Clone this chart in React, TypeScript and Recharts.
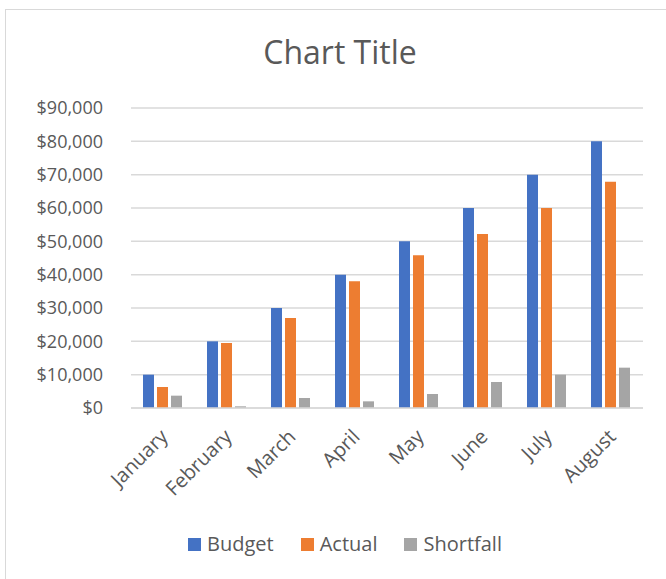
import React from "react";
import { BarChart, Bar, XAxis, YAxis, CartesianGrid, Legend } from "recharts";

const months = ["January", "February", "March", "April", "May", "June", "July", "August"];
const budget = [10000, 20000, 30000, 40000, 50000, 60000, 70000, 80000];
const actual = [6300, 19500, 27000, 38000, 45800, 52200, 60000, 67900];
const shortfall = [3700, 500, 3000, 2000, 4200, 7800, 10000, 12100];
const yTicks = [0, 10000, 20000, 30000, 40000, 50000, 60000, 70000, 80000, 90000];

const seriesNames = ["Budget", "Actual", "Shortfall"];
const seriesColors = ["#4472C4", "#ED7D31", "#A5A5A5"];

const data = months.map((m, i) => ({
  month: m,
  Budget: budget[i],
  Actual: actual[i],
  Shortfall: shortfall[i],
}));

const FONT = "'Open Sans', sans-serif";
const TEXT = "#595959";

const fmt = (v: number) => "$" + v.toLocaleString("en-US");

const XTick = (props: any) => {
  const { x, y, payload } = props;
  return (
    <g transform={`translate(${x + 6},${y + 22})`}>
      <text
        textAnchor="end"
        transform="rotate(-45)"
        fontSize={20}
        fontFamily={FONT}
        fill={TEXT}
      >
        {payload.value}
      </text>
    </g>
  );
};

const LegendContent = () => (
  <div
    style={{
      display: "flex",
      justifyContent: "center",
      alignItems: "center",
      fontFamily: FONT,
      fontSize: 20,
      color: TEXT,
      lineHeight: "28px",
    }}
  >
    {seriesNames.map((n, i) => (
      <div
        key={n}
        style={{ display: "flex", alignItems: "center", marginRight: i < seriesNames.length - 1 ? 27 : 0 }}
      >
        <span
          style={{
            display: "inline-block",
            width: 13,
            height: 13,
            background: seriesColors[i],
            marginRight: 6,
          }}
        />
        <span>{n}</span>
      </div>
    ))}
  </div>
);

export default function App() {
  return (
    <div
      style={{
        position: "fixed",
        left: 0,
        top: 0,
        width: 666,
        height: 579,
        overflow: "hidden",
        background: "#fff",
      }}
    >
      <div
        style={{
          position: "absolute",
          left: 5,
          top: 9,
          width: 700,
          height: 620,
          border: "1px solid #d9d9d9",
          boxSizing: "border-box",
        }}
      />
      <div
        style={{
          position: "absolute",
          left: 5,
          top: 28,
          width: 670,
          textAlign: "center",
          fontFamily: FONT,
          fontSize: 32,
          color: TEXT,
          lineHeight: "48px",
        }}
      >
        Chart Title
      </div>
      <div style={{ position: "absolute", left: 0, top: 0 }}>
        <BarChart
          width={666}
          height={579}
          data={data}
          margin={{ top: 108, right: 23, bottom: 0, left: 0 }}
          barCategoryGap={12}
          barGap={3}
        >
          <CartesianGrid vertical={false} stroke="#d9d9d9" strokeWidth={1.5} />
          <XAxis
            dataKey="month"
            height={171}
            tick={<XTick />}
            tickLine={false}
            axisLine={{ stroke: "#d9d9d9", strokeWidth: 1.5 }}
            interval={0}
          />
          <YAxis
            width={131}
            domain={[0, 90000]}
            ticks={yTicks}
            tickFormatter={fmt}
            tickLine={false}
            axisLine={false}
            tickSize={0}
            tickMargin={28}
            tick={{ fontSize: 18, fontFamily: FONT, fill: TEXT }}
          />
          <Legend
            layout="horizontal"
            verticalAlign="middle"
            align="center"
            content={<LegendContent />}
            wrapperStyle={{ top: 530, left: 5, width: 680 }}
          />
          <Bar dataKey="Budget" fill={seriesColors[0]} isAnimationActive={false} />
          <Bar dataKey="Actual" fill={seriesColors[1]} isAnimationActive={false} />
          <Bar dataKey="Shortfall" fill={seriesColors[2]} isAnimationActive={false} />
        </BarChart>
      </div>
    </div>
  );
}
